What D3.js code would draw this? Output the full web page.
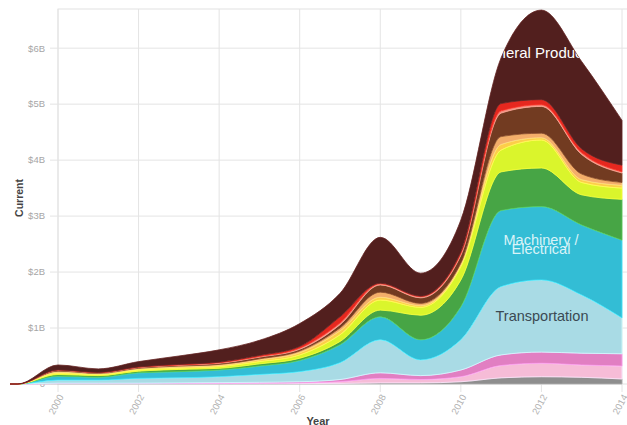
<!DOCTYPE html>
<html><head><meta charset="utf-8">
<script src="https://cdn.jsdelivr.net/npm/d3@7"></script>
<style>body{margin:0;background:#fff;}svg{display:block;font-family:"Liberation Sans",Arial,sans-serif;}</style>
</head><body><svg id="c" width="627" height="425"></svg>
<script>
const years = [1998,1999,2000,2001,2002,2003,2004,2005,2006,2007,2008,2009,2010,2011,2012,2013,2014];
// values in billions USD, stacked bottom to top
const miscellaneous   = [0,0,.005,.005,.005,.005,.005,.006,.008,.01,.02,.02,.04,.11,.13,.12,.09];
const instruments     = [0,0,.005,.005,.005,.005,.007,.009,.012,.03,.08,.06,.09,.22,.24,.22,.23];
const plastics        = [0,0,.005,.005,.005,.01,.013,.015,.02,.04,.10,.07,.12,.19,.20,.21,.22];
const transportation  = [0,0,.055,.055,.085,.09,.105,.14,.18,.30,.59,.28,.54,1.22,1.29,1.04,.64];
const machinery       = [0,0,.07,.05,.10,.11,.12,.15,.20,.32,.41,.36,.59,1.36,1.31,1.25,1.39];
const chemicals       = [0,0,.03,.03,.03,.04,.03,.04,.04,.06,.12,.44,.48,.69,.69,.54,.73];
const metals          = [0,0,.02,.015,.02,.02,.03,.04,.06,.12,.18,.14,.24,.39,.50,.22,.20];
const vegetables      = [0,0,.02,.015,.02,.02,.02,.03,.04,.07,.05,.03,.03,.10,.04,.05,.05];
const foodstuffs      = [0,0,.02,.01,.01,.02,.02,.02,.03,.05,.09,.04,.03,.14,.08,.10,.05];
const preciousMetals  = [0,0,.015,.01,.015,.015,.02,.03,.03,.06,.13,.10,.14,.42,.48,.35,.17];
const textiles        = [0,0,.005,.005,.005,.005,.01,.01,.02,.03,.02,.02,.03,.04,.03,.03,.02];
const stoneGlass      = [0,0,.002,.002,.005,.01,.01,.02,.03,.11,.01,.01,.03,.13,.09,.07,.12];
const mineralProducts = [0,0,.088,.063,.095,.15,.22,.27,.41,.42,.82,.41,.57,.82,1.60,1.56,.80];

const seriesNames = ["Miscellaneous","Instruments","Plastics and Rubbers","Transportation","Machinery / Electrical","Chemical Products","Metals","Vegetable Products","Foodstuffs","Precious Metals","Textiles","Stone and Glass","Mineral Products"];
const seriesValues = [miscellaneous,instruments,plastics,transportation,machinery,chemicals,metals,vegetables,foodstuffs,preciousMetals,textiles,stoneGlass,mineralProducts];
const seriesColors = ["#8e8e8e","#f6bcd7","#e17fc2","#a9dbe5","#33bdd5","#47a545","#daf52c","#fdcd4a","#f4ae6a","#723b21","#f08a7c","#e6281f","#521f1e"];
const yTicks = [0,1,2,3,4,5,6];
const yTickLabels = ["0","$1B","$2B","$3B","$4B","$5B","$6B"];
const xTicks = [2000,2002,2004,2006,2008,2010,2012,2014];

const rows = years.map((y,i)=>{const r={year:y}; seriesNames.forEach((n,k)=>r[n]=seriesValues[k][i]); return r;});

const svg = d3.select("#c");
const x = d3.scaleLinear().domain([2000,2014]).range([58,622]);
const y = d3.scaleLinear().domain([0,6.7]).range([384,9]);

// plot frame & grid
svg.append("rect").attr("x",58).attr("y",9).attr("width",580).attr("height",375).attr("fill","#fff").attr("stroke","#e2e2e2");
svg.append("g").selectAll("line").data(yTicks.filter(d=>d>0)).join("line")
  .attr("x1",50).attr("x2",627).attr("y1",d=>y(d)).attr("y2",d=>y(d)).attr("stroke","#e4e4e4");
svg.append("g").selectAll("line").data(xTicks).join("line")
  .attr("x1",d=>x(d)).attr("x2",d=>x(d)).attr("y1",9).attr("y2",392).attr("stroke","#e4e4e4");

svg.append("g").selectAll("text").data(yTicks).join("text")
  .attr("x",45).attr("y",d=>y(d)).attr("dy","0.35em").attr("text-anchor","end")
  .attr("font-size",9.5).attr("fill","#a6a6a6").text((d,i)=>yTickLabels[i]);

svg.append("g").selectAll("text").data(xTicks).join("text")
  .attr("transform",d=>`translate(${x(d)+3},395) rotate(-62)`).attr("dy","0.35em").attr("text-anchor","end")
  .attr("font-size",9.5).attr("fill","#b0b0b0").text(d=>d);

svg.append("text").attr("transform","translate(23,198) rotate(-90)").attr("text-anchor","middle")
  .attr("font-size",10.5).attr("font-weight","bold").attr("fill","#444").text("Current");
svg.append("text").attr("x",318).attr("y",425).attr("text-anchor","middle")
  .attr("font-size",11).attr("font-weight","bold").attr("fill","#444").text("Year");

// areas
const stack = d3.stack().keys(seriesNames).order(d3.stackOrderNone).offset(d3.stackOffsetNone);
const layers = stack(rows);
const area = d3.area().x(d=>x(d.data.year)).y0(d=>y(d[0])).y1(d=>y(d[1])).curve(d3.curveMonotoneX);

const defs = svg.append("defs");
defs.append("clipPath").attr("id","plotclip").append("rect").attr("x",10).attr("y",0).attr("width",617).attr("height",385);
defs.append("clipPath").attr("id","mpclip").append("path").attr("d",area(layers[12]));

const g = svg.append("g").attr("clip-path","url(#plotclip)");
g.selectAll("path").data(layers).join("path")
  .attr("d",area).attr("fill",(d,i)=>seriesColors[i])
  .attr("stroke",(d,i)=>d3.color(seriesColors[i]).brighter(0.6)).attr("stroke-width",0.8);

// labels
svg.append("text").attr("clip-path","url(#mpclip)").attr("x",538).attr("y",58).attr("text-anchor","middle")
  .attr("font-size",15).attr("fill","#fff").text("Mineral Products");
svg.append("text").attr("x",541).attr("y",245).attr("text-anchor","middle")
  .attr("font-size",14.5).attr("fill","#d9f3f8").text("Machinery /");
svg.append("text").attr("x",541).attr("y",254).attr("text-anchor","middle")
  .attr("font-size",14.5).attr("fill","#d9f3f8").text("Electrical");
svg.append("text").attr("x",542).attr("y",321).attr("text-anchor","middle")
  .attr("font-size",14.5).attr("fill","#3b4a53").text("Transportation");
</script></body></html>
